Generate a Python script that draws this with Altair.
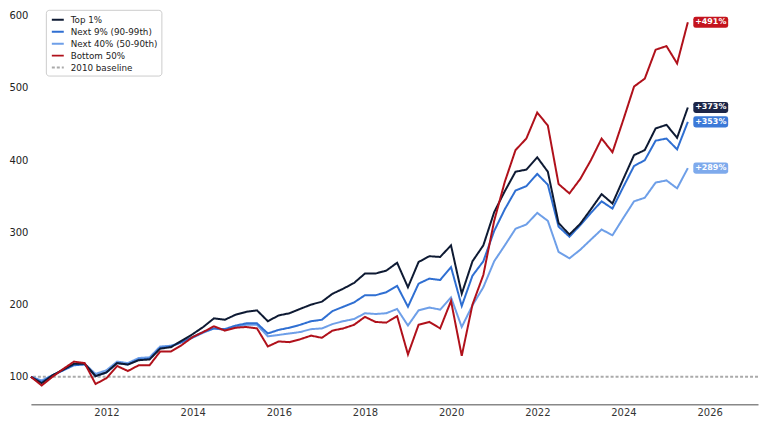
import altair as alt
import pandas as pd

# quarter-end dates, 2010 Q1 .. 2025 Q2
quarters = [f"{y}-{md}" for y in range(2010, 2026)
            for md in ["03-31", "06-30", "09-30", "12-31"]][:62]

top1 = [100, 91, 102, 110, 118, 118, 101, 106, 119, 117, 123, 124,
        139, 141, 150, 159, 169, 181, 179, 186, 190, 192, 177, 185, 188,
        194, 200, 204, 215, 222, 230, 243, 243, 247, 258, 224, 259, 267, 266,
        282, 215, 260, 282, 328, 357, 384, 387, 404, 384,
        313, 297, 312, 332, 353, 340, 374, 407, 414, 444, 449, 431, 473]
next9 = [100, 93, 102, 109, 116, 117, 101, 106, 119, 117, 124, 125,
         140, 142, 148, 155, 162, 167, 166, 171, 174, 174, 160, 165, 168,
         172, 177, 179, 191, 197, 203, 213, 213, 217, 226, 197, 229, 236, 234,
         252, 198, 240, 260, 302, 332, 358, 364, 381, 366,
         308, 294, 310, 327, 343, 333, 363, 392, 400, 427, 430, 415, 453]
next40 = [100, 95, 102, 110, 117, 118, 104, 109, 121, 119, 126, 127,
          142, 143, 148, 154, 161, 167, 165, 169, 172, 172, 156, 158, 160,
          162, 166, 167, 173, 177, 180, 188, 187, 188, 194, 171, 192, 196, 193,
          210, 169, 199, 224, 260, 282, 305, 311, 327, 316,
          273, 264, 276, 290, 304, 296, 320, 343, 348, 369, 372, 361, 389]
bottom50 = [100, 88, 100, 111, 121, 119, 90, 98, 115, 108, 116, 116,
            135, 135, 144, 155, 162, 170, 164, 168, 169, 167, 142, 149, 148,
            152, 157, 154, 164, 167, 172, 183, 176, 175, 184, 131, 172, 176, 167,
            205, 129, 200, 241, 316, 370, 414, 430, 466, 448,
            367, 354, 374, 400, 430, 411, 456, 502, 513, 553, 558, 534, 591]

series_names = ["Top 1%", "Next 9% (90-99th)", "Next 40% (50-90th)", "Bottom 50%", "2010 baseline"]
series_colors = ["#0e1a33", "#2f6fd2", "#6e9fe8", "#b0111b", "#aaaaaa"]
series_widths = [2.0, 2.0, 1.6, 3.0, 1.0]
series_dashes = [[1, 0], [1, 0], [1, 0], [1, 0], [3, 2]]
box_colors = ["#1c2547", "#3b79d8", "#7eaaec", "#c4141e"]
end_labels = ["+373%", "+353%", "+289%", "+491%"]
baseline_value = 100

values_by_series = {
    "Top 1%": top1,
    "Next 9% (90-99th)": next9,
    "Next 40% (50-90th)": next40,
    "Bottom 50%": bottom50,
}

# draw order: Next 40%, Next 9%, Top 1%, Bottom 50% (red on top)
draw_order = ["Next 40% (50-90th)", "Next 9% (90-99th)", "Top 1%", "Bottom 50%"]
rows = []
for s in draw_order:
    for d, v in zip(quarters, values_by_series[s]):
        rows.append({"date": d, "value": v, "series": s})
df = pd.DataFrame(rows)

base_df = pd.DataFrame([{"series": "2010 baseline", "value": baseline_value}])

lab_df = pd.DataFrame([
    {"date": quarters[-1], "value": values_by_series[s][-1], "series": s,
     "label": lab, "box": bc}
    for s, lab, bc in zip(series_names[:4], end_labels, box_colors)
])

color_scale = alt.Scale(domain=series_names, range=series_colors)
width_scale = alt.Scale(domain=series_names, range=series_widths)
dash_scale = alt.Scale(domain=series_names, range=series_dashes)

x_enc = alt.X("date:T",
              scale=alt.Scale(domain=["2010-03-31", "2027-02-15"]),
              axis=alt.Axis(title=None, format="%Y", tickCount={"interval": "year", "step": 2},
                            grid=False, ticks=False, domainColor="#888888", domainWidth=1.3,
                            labelColor="#333333", labelFontSize=10, labelPadding=3))
y_enc = alt.Y("value:Q",
              scale=alt.Scale(domain=[62, 600], nice=False, zero=False),
              axis=alt.Axis(title=None, values=[100, 200, 300, 400, 500, 600], grid=False,
                            ticks=False, domain=False, labelColor="#222222",
                            labelFontSize=10, labelPadding=3))

legend = alt.Legend(title=None, orient="none", legendX=15, legendY=-6,
                    symbolType="stroke", symbolSize=144, labelFontSize=8.8,
                    labelColor="#222222", fillColor="white", strokeColor="#cccccc",
                    padding=3, cornerRadius=3, rowPadding=0, symbolOffset=2,
                    labelOffset=6)

lines = alt.Chart(df).mark_line().encode(
    x=x_enc,
    y=y_enc,
    color=alt.Color("series:N", scale=color_scale, legend=legend),
    strokeWidth=alt.StrokeWidth("series:N", scale=width_scale, legend=legend),
    strokeDash=alt.StrokeDash("series:N", scale=dash_scale, legend=legend),
    detail="series:N",
)

baseline = alt.Chart(base_df).mark_rule().encode(
    y="value:Q",
    color=alt.Color("series:N", scale=color_scale, legend=legend),
    strokeWidth=alt.StrokeWidth("series:N", scale=width_scale, legend=legend),
    strokeDash=alt.StrokeDash("series:N", scale=dash_scale, legend=legend),
)

box_path = ("M-0.86,-0.32 L0.86,-0.32 Q1,-0.32 1,-0.18 L1,0.18 Q1,0.32 0.86,0.32 "
            "L-0.86,0.32 Q-1,0.32 -1,0.18 L-1,-0.18 Q-1,-0.32 -0.86,-0.32 Z")

boxes = alt.Chart(lab_df).mark_point(shape=box_path, filled=True, size=1225, opacity=1,
                                     xOffset=23, strokeWidth=0).encode(
    x="date:T", y="value:Q",
    fill=alt.Fill("box:N", scale=None, legend=None),
)

texts = alt.Chart(lab_df).mark_text(xOffset=23, color="white", fontWeight="bold",
                                    fontSize=8, align="center", baseline="middle").encode(
    x="date:T", y="value:Q", text="label:N",
)

chart = alt.layer(baseline, lines, boxes, texts).properties(
    width=730, height=390, padding=0
).configure(font="DejaVu Sans").configure_view(stroke=None)

chart.save("out.html", embed_options={"renderer": "svg", "actions": False})
